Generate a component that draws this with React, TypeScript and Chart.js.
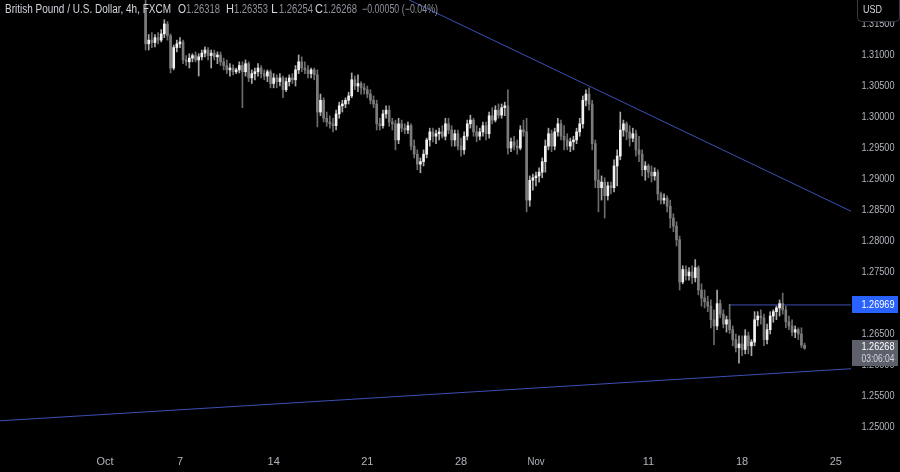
import React, { useEffect, useRef } from "react";
import { Chart, registerables } from "chart.js";

Chart.register(...registerables);

// ---- header texts ----
const symbolTitle = "British Pound / U.S. Dollar, 4h, FXCM";
const legendKeys = ["O", "H", "L", "C"];
const legendValues = ["1.26318", "1.26353", "1.26254", "1.26268"];
const legendChange = "\u22120.00050 (\u22120.04%)";
const currencyLabel = "USD";
const countdownText = "03:06:04";

// 4h slot (6 per trading day) of the first candle, counted from Oct 1 00:00
const firstSlot = 13;

const opens = [
  1.3173, 1.3118, 1.3124, 1.312, 1.3128, 1.3124, 1.3134, 1.315, 1.3131, 1.3079,
  1.3112, 1.3118, 1.3121, 1.3092, 1.3089, 1.3095, 1.3099, 1.3092, 1.3097, 1.3103,
  1.3108, 1.3099, 1.3103, 1.3097, 1.31, 1.3089, 1.3083, 1.3076, 1.3079, 1.3073,
  1.3076, 1.3083, 1.3073, 1.3086, 1.3063, 1.307, 1.3073, 1.3079, 1.307, 1.3066,
  1.3073, 1.3054, 1.3063, 1.3057, 1.3063, 1.3044, 1.3057, 1.3063, 1.306, 1.3076,
  1.3089, 1.3079, 1.3076, 1.307, 1.3076, 1.3068, 1.3008, 1.3027, 1.2998, 1.2992,
  1.2989, 1.2986, 1.3005, 1.3018, 1.3021, 1.3027, 1.3034, 1.306, 1.305, 1.3054,
  1.3047, 1.3044, 1.3037, 1.3027, 1.3021, 1.2989, 1.2986, 1.3005, 1.3011, 1.2992,
  1.2989, 1.2963, 1.2989, 1.2982, 1.2979, 1.2986, 1.2953, 1.294, 1.2924, 1.2928,
  1.294, 1.2963, 1.2976, 1.2969, 1.2973, 1.2976, 1.2969, 1.2989, 1.2979, 1.2963,
  1.2973, 1.2953, 1.2947, 1.2969, 1.2989, 1.2995, 1.2976, 1.2969, 1.2976, 1.2986,
  1.2973, 1.3002, 1.2995, 1.3011, 1.3003, 1.3015, 1.3018, 1.295, 1.296, 1.2953,
  1.295, 1.2979, 1.2976, 1.2866, 1.2898, 1.2902, 1.2905, 1.2911, 1.2928, 1.2953,
  1.2973, 1.2953, 1.2976, 1.2989, 1.2969, 1.2963, 1.2953, 1.296, 1.2963, 1.2976,
  1.2989, 1.3027, 1.3037, 1.3021, 1.2957, 1.2898, 1.2886, 1.2895, 1.2873, 1.2889,
  1.2886, 1.2921, 1.2937, 1.2979, 1.2989, 1.2976, 1.2966, 1.2973, 1.2947, 1.294,
  1.2915, 1.2921, 1.2911, 1.2905, 1.2911, 1.2876, 1.2866, 1.2869, 1.2856, 1.2837,
  1.2824, 1.2802, 1.2734, 1.2754, 1.2744, 1.275, 1.2741, 1.2757, 1.2721, 1.2708,
  1.2702, 1.2695, 1.2673, 1.2663, 1.2699, 1.2682, 1.2666, 1.2673, 1.2657, 1.2641,
  1.2628, 1.2634, 1.2625, 1.2647, 1.2631, 1.2637, 1.2673, 1.2679, 1.2676, 1.2641,
  1.2657, 1.2679, 1.2686, 1.2692, 1.2699, 1.2689, 1.267, 1.2663, 1.2653, 1.2657,
  1.265, 1.26318,
];

const highs = [
  1.3205, 1.3133, 1.3136, 1.3133, 1.3136, 1.3141, 1.3157, 1.3154, 1.3134, 1.3116,
  1.3124, 1.3128, 1.3124, 1.3099, 1.3102, 1.3102, 1.3105, 1.3102, 1.3108, 1.3113,
  1.3112, 1.3108, 1.3108, 1.3105, 1.3105, 1.3095, 1.3092, 1.3086, 1.3084, 1.3079,
  1.3089, 1.3089, 1.3092, 1.3089, 1.3076, 1.3079, 1.3086, 1.3083, 1.3076, 1.3076,
  1.3076, 1.307, 1.3068, 1.307, 1.3066, 1.3063, 1.3068, 1.307, 1.3083, 1.31,
  1.3097, 1.3089, 1.3083, 1.3079, 1.3079, 1.3076, 1.3037, 1.3031, 1.3008, 1.3002,
  1.2998, 1.3011, 1.3024, 1.3027, 1.3031, 1.304, 1.3071, 1.3066, 1.3068, 1.3057,
  1.3054, 1.305, 1.3044, 1.3034, 1.3027, 1.2998, 1.3011, 1.3018, 1.3018, 1.2998,
  1.2995, 1.2998, 1.2995, 1.2989, 1.2992, 1.2989, 1.2963, 1.2947, 1.2934, 1.2947,
  1.2966, 1.2982, 1.2982, 1.2979, 1.2982, 1.2986, 1.2998, 1.2998, 1.2986, 1.2979,
  1.2979, 1.2966, 1.2976, 1.2995, 1.3003, 1.2998, 1.2986, 1.2982, 1.2992, 1.2992,
  1.3008, 1.3015, 1.3018, 1.3021, 1.3021, 1.3024, 1.3044, 1.2966, 1.2969, 1.2963,
  1.2986, 1.2995, 1.2998, 1.2905, 1.2908, 1.2911, 1.2918, 1.2934, 1.2963, 1.2982,
  1.2979, 1.2982, 1.2998, 1.2995, 1.2986, 1.2973, 1.2966, 1.2969, 1.2982, 1.2998,
  1.3034, 1.3044, 1.3047, 1.3027, 1.2963, 1.2915, 1.2905, 1.2902, 1.2895, 1.2895,
  1.2931, 1.2947, 1.3008, 1.2995, 1.2992, 1.2986, 1.2982, 1.2979, 1.2969, 1.2947,
  1.2928, 1.2924, 1.2921, 1.2918, 1.2915, 1.2879, 1.2876, 1.2873, 1.2866, 1.2844,
  1.2831, 1.2808, 1.276, 1.276, 1.2757, 1.276, 1.277, 1.276, 1.2731, 1.2721,
  1.2711, 1.2705, 1.2689, 1.2721, 1.2705, 1.2689, 1.2679, 1.2698, 1.2663, 1.265,
  1.2647, 1.2647, 1.2657, 1.2653, 1.2641, 1.2686, 1.2686, 1.2689, 1.2682, 1.2666,
  1.2686, 1.2689, 1.2695, 1.2705, 1.2716, 1.2695, 1.2679, 1.2673, 1.2663, 1.266,
  1.266, 1.26353,
];

const lows = [
  1.3108, 1.3108, 1.3112, 1.3113, 1.3118, 1.3121, 1.3128, 1.3124, 1.3071, 1.3076,
  1.3105, 1.3112, 1.3086, 1.3083, 1.3079, 1.3089, 1.3089, 1.3066, 1.3092, 1.3097,
  1.3092, 1.3079, 1.3092, 1.3086, 1.3083, 1.3076, 1.307, 1.3066, 1.3068, 1.307,
  1.3071, 1.3015, 1.3066, 1.3057, 1.3054, 1.306, 1.3066, 1.3063, 1.306, 1.3057,
  1.3047, 1.3047, 1.3047, 1.305, 1.3031, 1.3041, 1.305, 1.3054, 1.305, 1.307,
  1.3073, 1.307, 1.3063, 1.3063, 1.306, 1.2984, 1.3002, 1.2992, 1.2985, 1.2982,
  1.2976, 1.2979, 1.2998, 1.3008, 1.3015, 1.3021, 1.3031, 1.3044, 1.3041, 1.3037,
  1.3037, 1.3031, 1.3021, 1.3015, 1.2979, 1.2979, 1.2982, 1.2998, 1.2985, 1.2979,
  1.2947, 1.2957, 1.2976, 1.2973, 1.2973, 1.2947, 1.2934, 1.2915, 1.291, 1.2921,
  1.2934, 1.2953, 1.296, 1.2957, 1.2963, 1.2966, 1.2963, 1.2973, 1.2953, 1.2953,
  1.2947, 1.2937, 1.294, 1.2963, 1.2982, 1.2969, 1.296, 1.2963, 1.2969, 1.2963,
  1.2966, 1.2989, 1.2992, 1.2998, 1.2998, 1.3002, 1.294, 1.2944, 1.2947, 1.294,
  1.2947, 1.2969, 1.2847, 1.2856, 1.2882, 1.2889, 1.2895, 1.2902, 1.2911, 1.2947,
  1.2944, 1.2947, 1.2969, 1.2963, 1.2947, 1.2947, 1.2944, 1.2947, 1.2957, 1.2969,
  1.2982, 1.3018, 1.3011, 1.2947, 1.2886, 1.2847, 1.2866, 1.2837, 1.2866, 1.2876,
  1.2879, 1.2889, 1.2931, 1.2969, 1.2963, 1.2953, 1.296, 1.2937, 1.2928, 1.2905,
  1.2898, 1.2902, 1.2895, 1.2898, 1.2866, 1.286, 1.286, 1.2847, 1.2821, 1.2815,
  1.2792, 1.2721, 1.2731, 1.2737, 1.2737, 1.2731, 1.2734, 1.2713, 1.2695, 1.2692,
  1.2686, 1.266, 1.2633, 1.2657, 1.2676, 1.266, 1.2653, 1.2651, 1.2631, 1.2621,
  1.2603, 1.2615, 1.2618, 1.2618, 1.2615, 1.2631, 1.2663, 1.2666, 1.2631, 1.2634,
  1.265, 1.2669, 1.2673, 1.2679, 1.2682, 1.266, 1.2657, 1.2647, 1.2644, 1.2641,
  1.2628, 1.26254,
];

const closes = [
  1.3118, 1.3124, 1.312, 1.3128, 1.3124, 1.3134, 1.315, 1.3131, 1.3079, 1.3112,
  1.3118, 1.3121, 1.3092, 1.3089, 1.3095, 1.3099, 1.3092, 1.3097, 1.3103, 1.3108,
  1.3099, 1.3103, 1.3097, 1.31, 1.3089, 1.3083, 1.3076, 1.3079, 1.3073, 1.3076,
  1.3083, 1.3073, 1.3086, 1.3063, 1.307, 1.3073, 1.3079, 1.307, 1.3066, 1.3073,
  1.3054, 1.3063, 1.3057, 1.3063, 1.3044, 1.3057, 1.3063, 1.306, 1.3076, 1.3089,
  1.3079, 1.3076, 1.307, 1.3076, 1.3068, 1.3008, 1.3027, 1.2998, 1.2992, 1.2989,
  1.2986, 1.3005, 1.3018, 1.3021, 1.3027, 1.3034, 1.306, 1.305, 1.3054, 1.3047,
  1.3044, 1.3037, 1.3027, 1.3021, 1.2989, 1.2986, 1.3005, 1.3011, 1.2992, 1.2989,
  1.2963, 1.2989, 1.2982, 1.2979, 1.2986, 1.2953, 1.294, 1.2924, 1.2928, 1.294,
  1.2963, 1.2976, 1.2969, 1.2973, 1.2976, 1.2969, 1.2989, 1.2979, 1.2963, 1.2973,
  1.2953, 1.2947, 1.2969, 1.2989, 1.2995, 1.2976, 1.2969, 1.2976, 1.2986, 1.2973,
  1.3002, 1.2995, 1.3011, 1.3003, 1.3015, 1.3018, 1.295, 1.296, 1.2953, 1.295,
  1.2979, 1.2976, 1.2866, 1.2898, 1.2902, 1.2905, 1.2911, 1.2928, 1.2953, 1.2973,
  1.2953, 1.2976, 1.2989, 1.2969, 1.2963, 1.2953, 1.296, 1.2963, 1.2976, 1.2989,
  1.3027, 1.3037, 1.3021, 1.2957, 1.2898, 1.2886, 1.2895, 1.2873, 1.2889, 1.2886,
  1.2921, 1.2937, 1.2979, 1.2989, 1.2976, 1.2966, 1.2973, 1.2947, 1.294, 1.2915,
  1.2921, 1.2911, 1.2905, 1.2911, 1.2876, 1.2866, 1.2869, 1.2856, 1.2837, 1.2824,
  1.2802, 1.2734, 1.2754, 1.2744, 1.275, 1.2741, 1.2757, 1.2721, 1.2708, 1.2702,
  1.2695, 1.2673, 1.2663, 1.2699, 1.2682, 1.2666, 1.2673, 1.2657, 1.2641, 1.2628,
  1.2634, 1.2625, 1.2647, 1.2631, 1.2637, 1.2673, 1.2679, 1.2676, 1.2641, 1.2657,
  1.2679, 1.2686, 1.2692, 1.2699, 1.2689, 1.267, 1.2663, 1.2653, 1.2657, 1.265,
  1.2632, 1.26268,
];

// ---- axes ----
const yTickValues = [
  1.25, 1.255, 1.26, 1.265, 1.27, 1.275, 1.28, 1.285, 1.29, 1.295, 1.3, 1.305, 1.31, 1.315,
];
const xTickSlots = [0, 24, 54, 84, 114, 138, 174, 204, 234];
const xTickLabels = ["Oct", "7", "14", "21", "28", "Nov", "11", "18", "25"];

// ---- drawings ----
const upperTrendSlots = [97.3, 238.9];
const upperTrendPrices = [1.3189, 1.2848];
const lowerTrendSlots = [-33.6, 238.9];
const lowerTrendPrices = [1.251, 1.2594];
const levelSlots = [200, 238.9];
const levelPrice = 1.26969;
const lastPrice = 1.26268;

const X_MIN = -33.62;
const X_MAX = 238.87;
const Y_MIN = 1.24726;
const Y_MAX = 1.31887;

const UI_FONT = '"Liberation Sans", Arial, sans-serif';

const overlayPlugin = {
  id: "tvOverlay",
  beforeDraw(chart: any) {
    const { ctx, width, height } = chart;
    ctx.save();
    ctx.fillStyle = "#000000";
    ctx.fillRect(0, 0, width, height);
    ctx.restore();
  },
  afterDraw(chart: any) {
    const ctx = chart.ctx;
    const xs = chart.scales.x;
    const ys = chart.scales.y;
    const area = chart.chartArea;
    const axisX = area.right;
    const labelCx = axisX + 27;
    ctx.save();
    ctx.textBaseline = "middle";
    ctx.textAlign = "center";
    ctx.font = `11px ${UI_FONT}`;
    ctx.fillStyle = "#b2b5be";
    yTickValues.forEach((v) => {
      const py = ys.getPixelForValue(v);
      ctx.fillText(v.toFixed(5), labelCx, py, 33);
    });
    xTickSlots.forEach((s, k) => {
      const px = xs.getPixelForValue(s);
      ctx.fillText(xTickLabels[k], px, area.bottom + 18, 17);
    });

    // horizontal level label
    const ly = ys.getPixelForValue(levelPrice);
    ctx.fillStyle = "#2962ff";
    ctx.fillRect(axisX + 1, Math.round(ly) - 9, 46, 17);
    ctx.fillStyle = "#ffffff";
    ctx.fillText(levelPrice.toFixed(5), labelCx, ly, 33);

    // last price label
    const cy = ys.getPixelForValue(lastPrice);
    ctx.fillStyle = "#5d606b";
    ctx.fillRect(axisX + 1, Math.round(cy) - 8, 46, 26);
    ctx.fillStyle = "#ffffff";
    ctx.fillText(lastPrice.toFixed(5), labelCx, cy - 1, 33);
    ctx.fillStyle = "#d1d4dc";
    ctx.fillText(countdownText, labelCx, cy + 11, 33);

    // currency button
    ctx.beginPath();
    ctx.roundRect(axisX + 6.5, -5.5, 42, 27, 4);
    ctx.fillStyle = "#000000";
    ctx.fill();
    ctx.strokeStyle = "#363a45";
    ctx.lineWidth = 1;
    ctx.stroke();
    ctx.fillStyle = "#d1d4dc";
    ctx.textAlign = "left";
    ctx.fillText(currencyLabel, axisX + 12, 10, 19);

    // header legend
    ctx.font = `12px ${UI_FONT}`;
    ctx.fillStyle = "#d1d4dc";
    ctx.fillText(symbolTitle, 5, 10, 166);
    const keyX = [178, 226, 271, 315];
    legendKeys.forEach((k, i) => {
      ctx.fillStyle = "#d1d4dc";
      ctx.fillText(k, keyX[i], 10, 8);
      ctx.fillStyle = "#8f929b";
      ctx.fillText(legendValues[i], keyX[i] + 8, 10, 34);
    });
    ctx.fillText(legendChange, 362, 10, 76);
    ctx.restore();
  },
};

export default function App() {
  const ref = useRef<HTMLCanvasElement>(null);
  useEffect(() => {
    document.body.style.margin = "0";
    document.body.style.background = "#000";
    const isUp = closes.map((c, k) => c >= opens[k]);
    const bodies = closes.map((c, k) => ({ x: firstSlot + k, y: [opens[k], c] }));
    const wicks = closes.map((_, k) => ({ x: firstSlot + k, y: [lows[k], highs[k]] }));
    const chart = new Chart(ref.current as HTMLCanvasElement, {
      type: "bar",
      data: {
        datasets: [
          {
            label: "bodies",
            data: bodies as any,
            backgroundColor: isUp.map((u) => (u ? "#f2f2f2" : "#7c7c7c")),
            barThickness: 2,
            minBarLength: 1,
            grouped: false,
          } as any,
          {
            label: "wicks",
            data: wicks as any,
            backgroundColor: isUp.map((u) => (u ? "#a9a9a9" : "#6c6c6c")),
            barThickness: 1,
            grouped: false,
          } as any,
          {
            type: "line",
            label: "upper trend",
            data: upperTrendSlots.map((s, k) => ({ x: s, y: upperTrendPrices[k] })),
            borderColor: "#3d4fb5",
            borderWidth: 1,
            pointRadius: 0,
          } as any,
          {
            type: "line",
            label: "lower trend",
            data: lowerTrendSlots.map((s, k) => ({ x: s, y: lowerTrendPrices[k] })),
            borderColor: "#3d4fb5",
            borderWidth: 1,
            pointRadius: 0,
          } as any,
          {
            type: "line",
            label: "level",
            data: levelSlots.map((s) => ({ x: s, y: levelPrice })),
            borderColor: "#3d4fb5",
            borderWidth: 1,
            pointRadius: 0,
          } as any,
        ],
      },
      options: {
        responsive: false,
        animation: false,
        events: [],
        layout: { padding: 0 },
        plugins: { legend: { display: false }, tooltip: { enabled: false } },
        scales: {
          x: {
            type: "linear",
            min: X_MIN,
            max: X_MAX,
            offset: false,
            grid: { display: false },
            border: { display: false },
            ticks: { display: false },
            afterFit: (s: any) => {
              s.height = 28;
            },
          },
          y: {
            position: "right",
            min: Y_MIN,
            max: Y_MAX,
            grid: { display: false },
            border: { display: false },
            ticks: { display: false },
            afterFit: (s: any) => {
              s.width = 49;
            },
          },
        },
      } as any,
      plugins: [overlayPlugin],
    });
    return () => chart.destroy();
  }, []);
  return (
    <div style={{ width: 900, height: 472, background: "#000" }}>
      <canvas ref={ref} width={900} height={472} style={{ display: "block", width: 900, height: 472 }} />
    </div>
  );
}
